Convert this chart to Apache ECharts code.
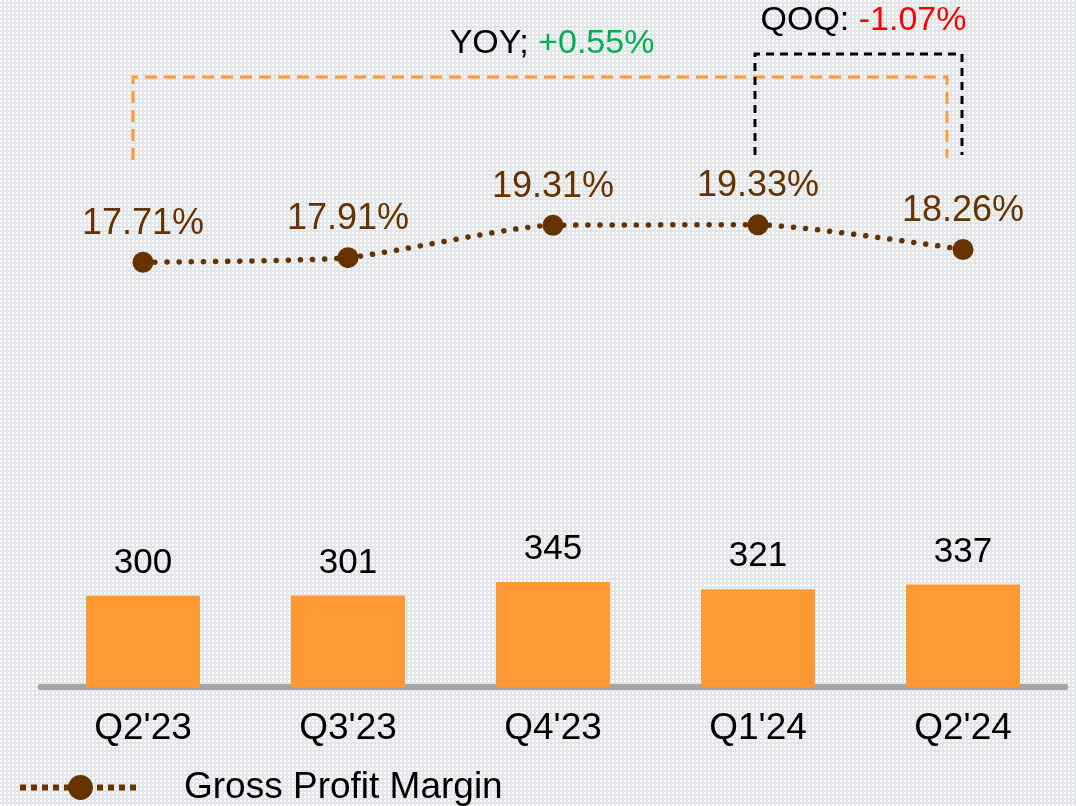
<!DOCTYPE html>
<html>
<head>
<meta charset="utf-8">
<script src="https://cdn.jsdelivr.net/npm/echarts@6/dist/echarts.min.js"></script>
<style>
    html, body {margin: 0; padding: 0;}
    #main {width: 1076px; height: 806px;}
</style>
</head>
<body>
<div id="main"></div>
<script>
let quarters = ["Q2'23", "Q3'23", "Q4'23", "Q1'24", "Q2'24"];
let gross_profit = [300, 301, 345, 321, 337];
let gross_margin = [17.71, 17.91, 19.31, 19.33, 18.26];
let yoy_text = ['YOY; ', '+0.55%'];
let qoq_text = ['QOQ: ', '-1.07%'];

let font = '"Liberation Sans", Arial, sans-serif';

// dotted grey background like the slide
function make_bg() {
    let c = document.createElement('canvas');
    c.width = 4;
    c.height = 4;
    let ctx = c.getContext('2d');
    ctx.fillStyle = '#e3e6e9';
    ctx.fillRect(0, 0, 4, 4);
    ctx.fillStyle = '#ffffff';
    ctx.fillRect(0, 0, 2, 2);
    return c.toDataURL();
}
document.getElementById('main').style.backgroundImage = 'url(' + make_bg() + ')';

let myChart = echarts.init(document.getElementById('main'));

let option = {
    backgroundColor: 'transparent',
    animation: false,
    grid: {left: 40.5, right: 10.5, top: 40, bottom: 806 - 687},
    legend: {
        data: ['Gross Profit Margin'],
        left: 12,
        top: 764,
        itemWidth: 121,
        itemHeight: 31,
        lineStyle: {width: 6, type: [6, 5], cap: 'butt', color: '#663300'},
        textStyle: {fontSize: 37, color: '#000', fontFamily: font, padding: [0, 0, 0, 38]}
    },
    xAxis: {
        type: 'category',
        data: quarters,
        axisLine: {lineStyle: {color: '#a6a6a6', width: 6}},
        axisTick: {show: false},
        axisLabel: {fontSize: 37, color: '#000', fontFamily: font, margin: 23}
    },
    yAxis: [
        {type: 'value', min: 0, max: 2126, show: false, splitLine: {show: false}},
        {type: 'value', min: -0.675, max: 27.33, show: false, splitLine: {show: false}}
    ],
    series: [
        {
            type: 'bar',
            data: gross_profit,
            barWidth: 114,
            yAxisIndex: 0,
            itemStyle: {color: '#ff9933'},
            label: {
                show: true,
                position: 'top',
                distance: 15,
                fontSize: 35,
                color: '#000',
                fontFamily: font
            }
        },
        {
            name: 'Gross Profit Margin',
            type: 'line',
            data: gross_margin,
            yAxisIndex: 1,
            smooth: 0.2,
            symbol: 'circle',
            symbolSize: 21,
            z: 5,
            itemStyle: {color: '#663300'},
            lineStyle: {color: '#663300', width: 5.5, type: [0.1, 12], cap: 'round'},
            label: {
                show: true,
                position: 'top',
                distance: 10,
                fontSize: 36,
                color: '#663300',
                fontFamily: font,
                formatter: function (p) {
                    return p.value.toFixed(2) + '%';
                }
            }
        }
    ]
};
myChart.setOption(option);

// YOY / QOQ brackets placed from the category positions
let x_first = myChart.convertToPixel({xAxisIndex: 0}, quarters[0]);
let x_prev = myChart.convertToPixel({xAxisIndex: 0}, quarters[3]);
let x_last = myChart.convertToPixel({xAxisIndex: 0}, quarters[4]);

myChart.setOption({
    graphic: [
        {
            type: 'polyline',
            shape: {points: [[x_first - 10, 160], [x_first - 10, 77], [x_last - 16, 77], [x_last - 16, 158]]},
            style: {fill: null, stroke: '#ff9933', lineWidth: 3, lineDash: [12, 7]}
        },
        {
            type: 'polyline',
            shape: {points: [[x_prev - 3, 155], [x_prev - 3, 54], [x_last - 1, 54], [x_last - 1, 155]]},
            style: {fill: null, stroke: '#000000', lineWidth: 3, lineDash: [8, 6]}
        },
        {
            type: 'text',
            x: (x_first + x_last) / 2 - 1,
            y: 44,
            style: {
                text: '{k|' + yoy_text[0] + '}{g|' + yoy_text[1] + '}',
                align: 'center',
                verticalAlign: 'middle',
                rich: {
                    k: {fontSize: 34, fill: '#000', fontFamily: font},
                    g: {fontSize: 34, fill: '#00b050', fontFamily: font}
                }
            }
        },
        {
            type: 'text',
            x: (x_prev + x_last) / 2 + 3,
            y: 21,
            style: {
                text: '{k|' + qoq_text[0] + '}{r|' + qoq_text[1] + '}',
                align: 'center',
                verticalAlign: 'middle',
                rich: {
                    k: {fontSize: 34, fill: '#000', fontFamily: font},
                    r: {fontSize: 34, fill: '#ff0000', fontFamily: font}
                }
            }
        }
    ]
});
</script>
</body>
</html>
